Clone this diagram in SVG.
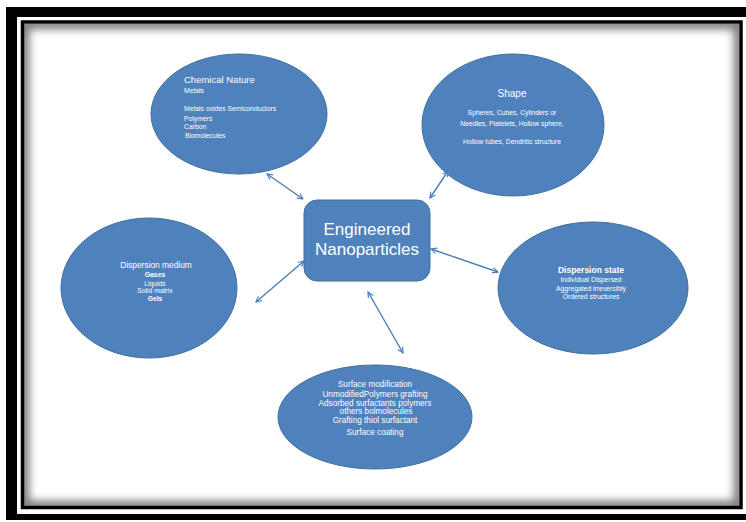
<svg xmlns="http://www.w3.org/2000/svg" width="746" height="522" viewBox="0 0 746 522">
<style>
.node{fill:#4f81bd;stroke:#41719c;stroke-width:1}
.t{fill:#ffffff;font-family:"Liberation Sans",Arial,sans-serif}
.title{font-size:9.5px}
.small{font-size:6.8px}
.mid{font-size:8.2px}
.conn{stroke:#4a7ebb;stroke-width:1.4;fill:none;marker-start:url(#ah);marker-end:url(#ah)}
</style>
<defs>
<marker id="ah" viewBox="0 0 10 10" refX="9" refY="5" markerWidth="7" markerHeight="7" markerUnits="userSpaceOnUse" orient="auto-start-reverse">
<path d="M1,1 L9,5 L1,9" fill="none" stroke="#4a7ebb" stroke-width="1.6"/>
</marker>
<clipPath id="inner"><rect x="24" y="24" width="715" height="482"/></clipPath>
<filter id="blur" x="-5%" y="-5%" width="110%" height="110%"><feGaussianBlur stdDeviation="4"/></filter>
</defs>
<rect width="746" height="522" fill="#ffffff"/>
<g id="frame">
<rect x="6" y="7" width="11" height="513" fill="#000"/>
<rect x="6" y="7" width="740" height="10" fill="#000"/>
<rect x="6" y="514" width="740" height="6" fill="#000"/>
<g clip-path="url(#inner)"><rect x="24" y="24" width="715" height="482" fill="none" stroke="#000" stroke-width="10" opacity="0.55" filter="url(#blur)"/></g>
<rect x="22.5" y="22" width="718.5" height="485.5" fill="none" stroke="#000" stroke-width="3.5"/>
</g>
<g id="center">
<rect class="node" x="304" y="200" width="126" height="81" rx="13"/>
<text class="t" x="367" y="235" text-anchor="middle" font-size="17" fill="#f0f0f0">Engineered</text>
<text class="t" x="367" y="255" text-anchor="middle" font-size="17" fill="#f0f0f0">Nanoparticles</text>
</g>
<g id="chemical">
<ellipse class="node" cx="239" cy="114" rx="88" ry="60"/>
<text class="t title" x="184" y="83">Chemical Nature</text>
<text class="t small" x="184" y="93">Metals</text>
<text class="t small" x="184" y="111">Metals  oxides  Semiconductors</text>
<text class="t small" x="184" y="121">Polymers</text>
<text class="t small" x="184" y="129">Carbon</text>
<text class="t small" x="185" y="138">Biomolecules</text>
</g>
<g id="shape">
<ellipse class="node" cx="513" cy="125" rx="91" ry="71"/>
<text class="t" x="512" y="97" text-anchor="middle" font-size="10">Shape</text>
<text class="t small" x="512" y="115" text-anchor="middle">Spheres,  Cubes, Cylinders or</text>
<text class="t small" x="512" y="126" text-anchor="middle">Needles,  Platelets,  Hollow  sphere,</text>
<text class="t small" x="512" y="144" text-anchor="middle">Hollow tubes,  Dendritic structure</text>
</g>
<g id="medium">
<ellipse class="node" cx="149" cy="288" rx="88" ry="70"/>
<text class="t" x="156" y="268" text-anchor="middle" font-size="8.4">Dispersion  medium</text>
<text class="t small" x="155" y="277" text-anchor="middle" font-weight="bold">Gases</text>
<text class="t small" x="155" y="286" text-anchor="middle">Liquids</text>
<text class="t small" x="155" y="293" text-anchor="middle">Solid  matrix</text>
<text class="t small" x="155" y="301" text-anchor="middle" font-weight="bold">Gels</text>
</g>
<g id="state">
<ellipse class="node" cx="593" cy="288" rx="95" ry="66"/>
<text class="t" x="591" y="273" text-anchor="middle" font-size="8.5" font-weight="bold">Dispersion state</text>
<text class="t small" x="591" y="282" text-anchor="middle">Individual  Dispersed</text>
<text class="t small" x="591" y="291" text-anchor="middle">Aggregated   irreversibly</text>
<text class="t small" x="591" y="299" text-anchor="middle">Ordered  structures</text>
</g>
<g id="surface">
<ellipse class="node" cx="375" cy="417" rx="97" ry="52"/>
<text class="t mid" x="375" y="387" text-anchor="middle">Surface modification</text>
<text class="t mid" x="375" y="397" text-anchor="middle">UnmodifiedPolymers  grafting</text>
<text class="t mid" x="375" y="406" text-anchor="middle">Adsorbed  surfactants polymers</text>
<text class="t mid" x="376" y="414" text-anchor="middle">others  bolmolecules</text>
<text class="t mid" x="375" y="423" text-anchor="middle">Grafting  thiol  surfactant</text>
<text class="t mid" x="375" y="435" text-anchor="middle">Surface coating</text>
</g>
<g id="connectors">
<line class="conn" x1="267" y1="174" x2="303" y2="199"/>
<line class="conn" x1="448" y1="171" x2="430" y2="198"/>
<line class="conn" x1="431" y1="249" x2="498" y2="272"/>
<line class="conn" x1="304" y1="261" x2="256" y2="302"/>
<line class="conn" x1="368" y1="292" x2="403" y2="353"/>
</g>
</svg>
